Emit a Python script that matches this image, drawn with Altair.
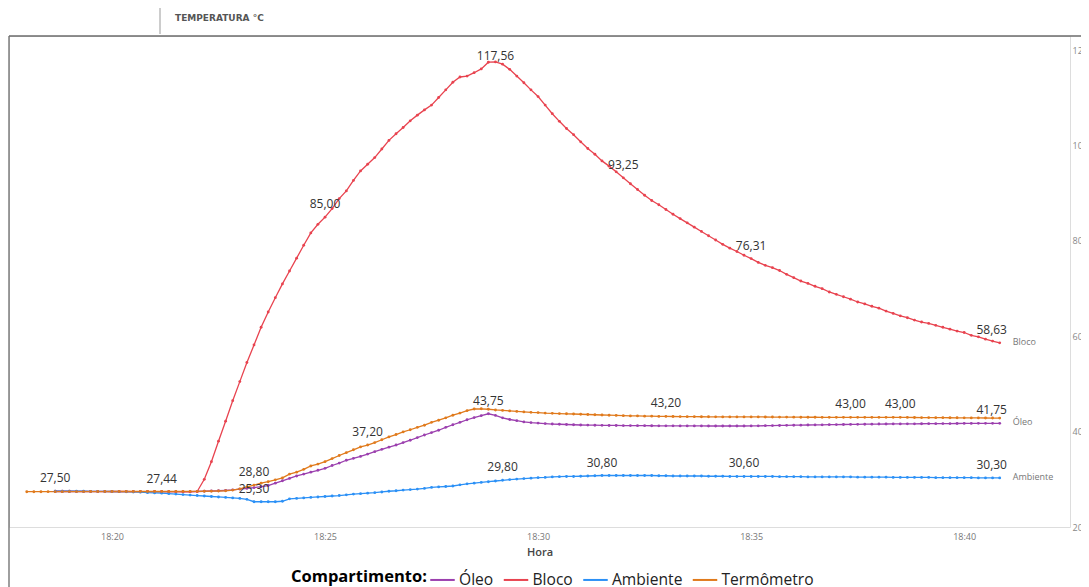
import altair as alt
import pandas as pd

# ---------------- data (10-second readings) ----------------
SERIES = ["Óleo", "Bloco", "Ambiente", "Termômetro"]
COLORS = ["#9B3FAE", "#E8434F", "#2B90F6", "#E07A1C"]

# seconds relative to 18:20:00 of the first reading of each series
START_SECONDS = {"Óleo": -80, "Bloco": -80, "Ambiente": -80, "Termômetro": -120}
STEP_SECONDS = 10

bloco = [
    27.50, 27.50, 27.50, 27.48, 27.48, 27.47, 27.46, 27.46, 27.45, 27.45,
    27.45, 27.44, 27.44, 27.44, 27.44, 27.44, 27.42, 27.40, 27.38, 27.38,
    27.45, 30.0, 33.7, 38.0, 42.2, 46.5, 50.5, 54.5, 58.2, 61.9,
    65.1, 68.1, 71.0, 73.7, 76.4, 79.1, 81.7, 83.5, 85.0, 86.8,
    88.9, 90.5, 92.7, 94.7, 96.1, 97.5, 99.3, 101.1, 102.5, 103.8,
    105.2, 106.4, 107.5, 108.5, 110.1, 111.7, 113.3, 114.4, 114.6, 115.3,
    116.1, 117.5, 117.56, 117.1, 116.0, 114.6, 113.2, 111.7, 110.3, 108.5,
    106.7, 105.1, 103.6, 102.3, 100.8, 99.4, 98.2, 96.8, 95.7, 94.5,
    93.25, 92.0, 90.8, 89.6, 88.5, 87.6, 86.6, 85.6, 84.7, 83.8,
    82.9, 82.0, 81.1, 80.2, 79.3, 78.5, 77.8, 77.0, 76.31, 75.5,
    74.9, 74.4, 73.8, 73.0, 72.3, 71.6, 71.1, 70.5, 70.0, 69.3,
    68.8, 68.3, 67.8, 67.2, 66.8, 66.3, 65.9, 65.3, 64.8, 64.3,
    63.9, 63.4, 63.0, 62.7, 62.3, 61.9, 61.5, 61.1, 60.8, 60.2,
    59.9, 59.4, 59.0, 58.63,
]

oleo = [
    27.45, 27.45, 27.45, 27.45, 27.45, 27.44, 27.44, 27.43, 27.43, 27.42,
    27.42, 27.41, 27.40, 27.40, 27.40, 27.40, 27.40, 27.40, 27.41, 27.42,
    27.45, 27.50, 27.55, 27.60, 27.70, 27.80, 27.95, 28.10, 28.25, 28.45,
    28.7, 29.2, 29.7, 30.2, 30.7, 31.1, 31.5, 31.9, 32.3, 32.9,
    33.4, 34.0, 34.4, 34.8, 35.3, 35.8, 36.3, 36.75, 37.2, 37.7,
    38.2, 38.75, 39.3, 39.8, 40.3, 40.9, 41.45, 41.95, 42.5, 42.95,
    43.35, 43.75, 43.4, 42.9, 42.55, 42.3, 42.05, 41.9, 41.8, 41.7,
    41.6, 41.55, 41.5, 41.45, 41.4, 41.38, 41.35, 41.33, 41.3, 41.3,
    41.28, 41.27, 41.25, 41.25, 41.24, 41.23, 41.22, 41.22, 41.21, 41.2,
    41.2, 41.2, 41.19, 41.19, 41.19, 41.19, 41.19, 41.19, 41.2, 41.22,
    41.25, 41.27, 41.3, 41.32, 41.35, 41.37, 41.4, 41.42, 41.44, 41.46,
    41.48, 41.5, 41.52, 41.54, 41.56, 41.58, 41.6, 41.61, 41.62, 41.63,
    41.64, 41.65, 41.66, 41.67, 41.68, 41.69, 41.7, 41.71, 41.72, 41.73,
    41.74, 41.74, 41.75, 41.75,
]

ambiente = [
    27.50, 27.50, 27.50, 27.50, 27.50, 27.48, 27.48, 27.47, 27.45, 27.43,
    27.4, 27.35, 27.3, 27.2, 27.15, 27.1, 27.0, 26.9, 26.8, 26.7,
    26.6, 26.5, 26.4, 26.3, 26.2, 26.1, 26.0, 25.8, 25.3, 25.3,
    25.3, 25.3, 25.4, 25.9, 26.0, 26.1, 26.2, 26.3, 26.4, 26.5,
    26.6, 26.75, 26.9, 27.0, 27.1, 27.2, 27.35, 27.5, 27.6, 27.75,
    27.85, 27.95, 28.1, 28.3, 28.4, 28.5, 28.6, 28.85, 29.05, 29.2,
    29.35, 29.5, 29.65, 29.8, 29.95, 30.05, 30.15, 30.25, 30.35, 30.4,
    30.5, 30.55, 30.6, 30.6, 30.65, 30.7, 30.75, 30.8, 30.8, 30.8,
    30.8, 30.8, 30.8, 30.8, 30.8, 30.75, 30.75, 30.7, 30.7, 30.7,
    30.7, 30.7, 30.65, 30.65, 30.65, 30.6, 30.6, 30.6, 30.6, 30.6,
    30.6, 30.6, 30.55, 30.55, 30.55, 30.55, 30.5, 30.5, 30.5, 30.5,
    30.5, 30.5, 30.5, 30.45, 30.45, 30.45, 30.45, 30.45, 30.4, 30.4,
    30.4, 30.4, 30.4, 30.4, 30.35, 30.35, 30.35, 30.35, 30.35, 30.35,
    30.3, 30.3, 30.3, 30.3,
]

termometro = [
    27.40, 27.40, 27.40, 27.42, 27.42, 27.42, 27.43, 27.43, 27.43, 27.44,
    27.44, 27.44, 27.45, 27.45, 27.45, 27.45, 27.45, 27.45, 27.45, 27.45,
    27.45, 27.45, 27.46, 27.47, 27.48, 27.50, 27.52, 27.55, 27.60, 27.75,
    28.0, 28.4, 28.8, 29.2, 29.5, 29.9, 30.3, 31.1, 31.5, 32.1,
    32.8, 33.2, 33.7, 34.35, 35.0, 35.6, 36.2, 36.8, 37.2, 37.7,
    38.3, 38.9, 39.4, 39.95, 40.4, 40.9, 41.35, 41.95, 42.4, 42.9,
    43.45, 43.9, 44.4, 44.75, 44.8, 44.7, 44.55, 44.45, 44.35, 44.25,
    44.15, 44.05, 44.0, 43.9, 43.85, 43.8, 43.75, 43.7, 43.65, 43.6,
    43.55, 43.5, 43.45, 43.4, 43.35, 43.3, 43.3, 43.25, 43.25, 43.2,
    43.2, 43.18, 43.16, 43.15, 43.14, 43.13, 43.12, 43.11, 43.1, 43.1,
    43.1, 43.1, 43.1, 43.09, 43.08, 43.07, 43.06, 43.05, 43.04, 43.03,
    43.02, 43.02, 43.01, 43.01, 43.0, 43.0, 43.0, 43.0, 43.0, 43.0,
    43.0, 43.0, 43.0, 43.0, 42.98, 42.97, 42.96, 42.95, 42.94, 42.93,
    42.92, 42.91, 42.9, 42.89, 42.88, 42.87, 42.86, 42.85,
]

# data labels: series and reading time (seconds after 18:20:00)
LABEL_SERIES = ["Bloco"] * 4 + ["Óleo"] * 1 + ["Ambiente"] * 5 + ["Termômetro"] * 5
LABEL_SECONDS = [70, 300, 720, 900,
                 530,
                 -80, 200, 550, 690, 890,
                 200, 360, 780, 1040, 1110]
PEAK_LABEL = ("Bloco", 540)                        # label squeezed near the top
END_LABEL_SERIES = ["Bloco", "Óleo", "Ambiente"]   # last reading labelled
END_NAME_SERIES = ["Bloco", "Óleo", "Ambiente"]    # series name at line end

X_TICKS_MIN = [20, 25, 30, 35, 40]
Y_TICKS = [20, 40, 60, 80, 100, 120]

# ---------------- build table ----------------
base_time = pd.Timestamp("2024-01-01T18:20:00")
values = {"Óleo": oleo, "Bloco": bloco, "Ambiente": ambiente, "Termômetro": termometro}
rows = []
for s in SERIES:
    for i, v in enumerate(values[s]):
        sec = START_SECONDS[s] + STEP_SECONDS * i
        t = base_time + pd.Timedelta(seconds=sec)
        rows.append({"serie": s, "sec": sec, "time": t.strftime("%Y-%m-%dT%H:%M:%SZ"), "valor": v})
df = pd.DataFrame(rows)
df["rotulo"] = df["valor"].map(lambda v: f"{v:.2f}".replace(".", ","))

lab_keys = set(zip(LABEL_SERIES, LABEL_SECONDS))
df_lab = df[[(s, t) in lab_keys for s, t in zip(df["serie"], df["sec"])]]
df_peak = df[(df["serie"] == PEAK_LABEL[0]) & (df["sec"] == PEAK_LABEL[1])]
last = df.loc[df.groupby("serie")["sec"].idxmax()]
df_end = last[last["serie"].isin(END_LABEL_SERIES)]
df_name = last[last["serie"].isin(END_NAME_SERIES)]


def dt(h, m, s=0):
    return alt.DateTime(year=2024, month=1, date=1, hours=h, minutes=m, seconds=s, utc=True)


FONT = "Open Sans"
x_enc = alt.X(
    "time:T",
    scale=alt.Scale(type="utc", domain=[dt(18, 17, 35), dt(18, 42, 29)]),
    axis=alt.Axis(
        values=[dt(18, m) for m in X_TICKS_MIN], format="%H:%M", title="Hora",
        grid=False, domain=False, ticks=False, labelPadding=5,
        labelFontSize=9, labelColor="#777777", labelFont=FONT,
        titleFontSize=11, titleColor="#444444", titleFontWeight=600, titleFont=FONT,
        titlePadding=5,
    ),
)
y_enc = alt.Y(
    "valor:Q",
    scale=alt.Scale(domain=[20, 123], nice=False, zero=False),
    axis=alt.Axis(
        orient="right", values=Y_TICKS, title=None, grid=False, domain=False,
        ticks=False, labelPadding=2, labelFontSize=9, labelColor="#888888", labelFont=FONT,
    ),
)
color_scale = alt.Scale(domain=SERIES, range=COLORS)

base = alt.Chart(df).encode(x=x_enc, y=y_enc)

lines = base.mark_line(strokeWidth=1.3).encode(
    color=alt.Color(
        "serie:N", scale=color_scale, sort=SERIES,
        legend=alt.Legend(
            title="Compartimento:", orient="none", legendX=282, legendY=530,
            direction="horizontal", titleOrient="left", symbolType="stroke",
            symbolSize=600, symbolStrokeWidth=2, labelFontSize=15.6, titleFontSize=16.5,
            titleFontWeight="bold", titleColor="#000000", labelColor="#222222",
            labelFont=FONT, titleFont=FONT, columnPadding=5.5, labelOffset=3,
            titlePadding=2,
        ),
    ),
    detail="serie:N",
)
points = base.mark_point(filled=True, size=8, opacity=1).encode(
    color=alt.Color("serie:N", scale=color_scale, legend=None)
)

labels = alt.Chart(df_lab).mark_text(
    dy=-13, fontSize=12, color="#333333", font=FONT, baseline="middle"
).encode(x=x_enc, y=y_enc, text="rotulo:N")

peak_label = alt.Chart(df_peak).mark_text(
    dy=-6, fontSize=12, color="#333333", font=FONT, baseline="middle"
).encode(x=x_enc, y=y_enc, text="rotulo:N")

end_labels = alt.Chart(df_end).mark_text(
    dy=-13, dx=-8, fontSize=12, color="#333333", font=FONT, baseline="middle"
).encode(x=x_enc, y=y_enc, text="rotulo:N")

name_labels = alt.Chart(df_name).mark_text(
    dx=13, dy=-1, align="left", baseline="middle", fontSize=9, color="#777777", font=FONT
).encode(x=x_enc, y=y_enc, text="serie:N")

one = alt.Data(values=[{"t": "TEMPERATURA °C"}])
frame_top = alt.Chart(one).mark_rule(color="#6b6b6b", strokeWidth=1.3).encode(
    x=alt.value(0), x2=alt.value(1100), y=alt.value(0)
)
frame_left = alt.Chart(one).mark_rule(color="#6b6b6b", strokeWidth=1.3).encode(
    x=alt.value(0), y=alt.value(0), y2=alt.value(600)
)
header_bar = alt.Chart(one).mark_rule(color="#9a9a9a", strokeWidth=1).encode(
    x=alt.value(151), y=alt.value(-31), y2=alt.value(-2)
)
header = alt.Chart(one).mark_text(
    align="left", baseline="middle", fontSize=9, fontWeight="bold",
    color="#555555", font="DejaVu Sans"
).encode(x=alt.value(166), y=alt.value(-18), text="t:N")

chart = alt.layer(
    frame_top, frame_left, header_bar, header,
    lines, points, labels, peak_label, end_labels, name_labels,
).properties(
    width=1061, height=491,
    autosize=alt.AutoSizeParams(type="none"),
    padding={"left": 1, "top": 28, "right": 11, "bottom": 60},
).configure_view(stroke="transparent", strokeWidth=0).configure(font=FONT)

chart.save("out.html", embed_options={"renderer": "svg", "actions": False})
